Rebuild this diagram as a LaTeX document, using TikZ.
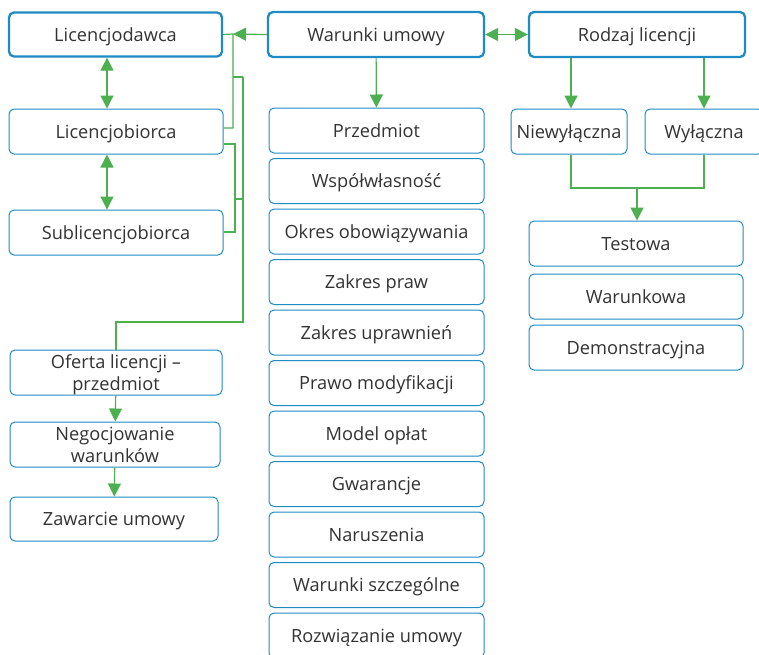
\documentclass[tikz,border=0pt]{standalone}
\usepackage{fontspec}
\setmainfont{Open Sans}
\usetikzlibrary{arrows.meta}
\definecolor{boxblue}{HTML}{1E8BC3}
\definecolor{linkgreen}{HTML}{4CAF50}
\definecolor{txt}{HTML}{333333}
\tikzset{
  box/.style={draw=boxblue, line width=1pt, rounded corners=5pt, fill=white,
    text=txt, font=\fontsize{18.2}{22}\selectfont, align=center, inner sep=0pt,
    text depth=0pt},
  mainbox/.style={box, line width=2.3pt},
  link/.style={draw=linkgreen, line width=1.2pt},
  tip/.style={link, -{Triangle[length=13pt,width=13pt]}},
  twotip/.style={link, {Triangle[length=13pt,width=13pt]}-{Triangle[length=13pt,width=13pt]}},
}
\begin{document}
\begin{tikzpicture}[x=1pt,y=-1pt]
\useasboundingbox (0,0) rectangle (759,654);

% parties
\node[mainbox, minimum width=213pt, minimum height=44pt] (ld) at (115.5,34.5) {Licencjodawca};
\node[box, minimum width=214pt, minimum height=45pt] (lb) at (116,131.5) {Licencjobiorca};
\node[box, minimum width=214pt, minimum height=45pt] (sl) at (116,232.5) {Sublicencjobiorca};

% conclusion process
\node[box, minimum width=212pt, minimum height=45pt] (of) at (116,372.5) {Oferta licencji –\\przedmiot};
\node[box, minimum width=210pt, minimum height=45pt] (ng) at (115,444.5) {Negocjowanie\\warunków};
\node[box, minimum width=208pt, minimum height=44pt] (za) at (114,519) {Zawarcie umowy};

% contract terms
\node[mainbox, minimum width=216pt, minimum height=45pt] (wu) at (376,34.5) {Warunki umowy};
\foreach \t [count=\i from 0] in {Przedmiot,Współwłasność,Okres obowiązywania,Zakres praw,
    Zakres uprawnień,Prawo modyfikacji,Model opłat,Gwarancje,Naruszenia,
    Warunki szczególne,Rozwiązanie umowy}
  \node[box, minimum width=215pt, minimum height=45pt] (t\i) at (376.5,130.5+50.5*\i) {\t};

% licence types
\node[mainbox, minimum width=216pt, minimum height=45pt] (rl) at (637,34.5) {Rodzaj licencji};
\node[box, minimum width=116pt, minimum height=45pt] (nw) at (569,131.5) {Niewyłączna};
\node[box, minimum width=118pt, minimum height=45pt] (wy) at (704,131.5) {Wyłączna};
\node[box, minimum width=214pt, minimum height=45pt] (te) at (636,243.5) {Testowa};
\node[box, minimum width=214pt, minimum height=45pt] (wa) at (636,296.5) {Warunkowa};
\node[box, minimum width=214pt, minimum height=45pt] (de) at (636,347.5) {Demonstracyjna};

% joints of the bracket lines
\coordinate (fa) at (233,34);
\coordinate (fb) at (235,199);
\coordinate (fc) at (243,322);
\coordinate (fd) at (637,188);

% party relations
\draw[twotip] (ld.south -| 107,0) -- (lb.north -| 107,0);
\draw[twotip] (lb.south -| 107,0) -- (sl.north -| 107,0);

% brackets joining the parties to the process
\draw[link] (ld.east) -- (fa) -- (233,128) -- (lb.east |- 0,128);
\draw[link] (233,77) -- (243,77);
\draw[link] (lb.east |- 0,144) -- (235,144) -- (235,232) -- (sl.east |- 0,232);
\draw[link] (fb) -- (243,199);
\draw[link] (243,77) -- (fc) -- (of.north |- fc) -- (of.north);
\draw[tip] (of) -- (ng);
\draw[tip] (ng) -- (za);

% contract terms links
\draw[tip] (wu.west) -- (fa);
\draw[tip] (wu) -- (t0);
\draw[twotip] (wu) -- (rl);

% licence type links
\draw[tip] (rl.south -| 571,0) -- (nw.north -| 571,0);
\draw[tip] (rl.south -| wy.north) -- (wy.north);
\draw[link] (nw.south -| 571,0) -- (571,188) -- (704,188) -- (wy.south);
\draw[tip] (fd) -- (te.north -| fd);
\end{tikzpicture}
\end{document}
